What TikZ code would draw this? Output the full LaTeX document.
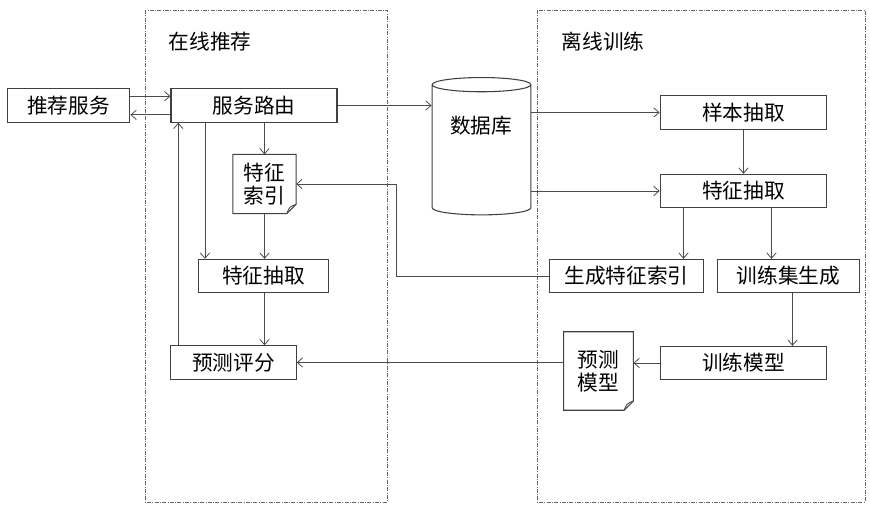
\documentclass[tikz,border=0pt]{standalone}
\usepackage{fontspec}
\newfontfamily\cjk{Noto Sans CJK SC}
\usetikzlibrary{arrows.meta,shapes.geometric}

\begin{document}
\begin{tikzpicture}[
    x=0.75pt, y=-0.75pt,
    font=\cjk\fontsize{15.5}{17}\selectfont,
    blk/.style={draw=black!75, line width=0.8pt, minimum height=25pt, inner sep=0pt},
    doc/.style={minimum width=47pt, minimum height=44pt, inner sep=0pt, align=center},
    arr/.style={draw=black!70, line width=0.6pt, -{Straight Barb[length=4pt,width=7pt]}},
    zone/.style={draw=black!60, line width=0.7pt, densely dash dot},
]
\useasboundingbox (0,0) rectangle (870,513);

% Zones
\draw[zone] (145,10) rectangle (387,502);
\draw[zone] (537,10) rectangle (865,502);
\node (zonl) at (210,42) {在线推荐};
\node (zonr) at (603,42) {离线训练};

% Online side
\node[blk, minimum width=92pt] (tjfw) at (68.5,105.5) {推荐服务};
\node[blk, minimum width=124.5pt] (fwly) at (254,105.5) {服务路由};
\node[doc] (tzsy) at (264.5,184) {特征\\索引};
\node[blk, minimum width=97pt] (tzcq1) at (263.5,276) {特征抽取};
\node[blk, minimum width=94pt] (yycpf) at (233.5,362.5) {预测评分};

% Database
\node[cylinder, shape border rotate=90, aspect=1.6, draw=black!75, line width=0.8pt,
      minimum width=74pt, minimum height=103pt] (db) at (481.5,151.5) {};
\node (dbt) at (481,126) {数据库};

% Offline side
\node[blk, minimum width=125pt, minimum height=26pt] (ybcq) at (743.5,112.5) {样本抽取};
\node[blk, minimum width=125pt] (tzcq2) at (743.5,191) {特征抽取};
\node[blk, minimum width=115pt] (sctzsy) at (626.5,276) {生成特征索引};
\node[blk, minimum width=107pt] (xljsc) at (788.5,276) {训练集生成};
\node[blk, minimum width=125pt] (xlmx) at (743.5,363) {训练模型};
\node[doc, minimum width=52pt, minimum height=58.5pt] (ycmx) at (598.5,371) {预测\\模型};

% Document outlines
\foreach \d in {tzsy,ycmx} {
  \draw[draw=black!75, line width=0.8pt] ([yshift=7pt]\d.south east) -- (\d.north east)
    -- (\d.north west) -- (\d.south west) -- ([xshift=-7pt]\d.south east) -- cycle;
  \draw[draw=black!75, line width=0.6pt] ([xshift=-7pt]\d.south east)
    .. controls ([xshift=-5pt,yshift=5pt]\d.south east) .. ([yshift=7pt]\d.south east);
}

% Connectors
\draw[arr] ([yshift=7pt]tjfw.east) -- ([yshift=7pt]tjfw.east -| fwly.west);
\draw[arr] ([yshift=-7pt]fwly.west) -- ([yshift=-7pt]fwly.west -| tjfw.east);
\draw[arr] (fwly.east) -- (fwly.east -| db.west);
\draw[arr] (tzsy.north |- fwly.south) -- (tzsy.north);
\draw[arr] (tzsy.south) -- (tzsy.south |- tzcq1.north);
\draw[arr] (tzsy.south |- tzcq1.south) -- (tzsy.south |- yycpf.north);
\draw[arr] ([xshift=5pt]tzcq1.north west |- fwly.south) -- ([xshift=5pt]tzcq1.north west);
\draw[arr] ([xshift=6pt]yycpf.north west) -- ([xshift=6pt]yycpf.north west |- fwly.south);

\draw[arr] (db.east |- ybcq.west) -- (ybcq.west);
\draw[arr] (db.east |- tzcq2.west) -- (tzcq2.west);
\draw[arr] (ybcq.south) -- (tzcq2.north);
\draw[arr] ([xshift=-45pt]tzcq2.south) -- ([xshift=-45pt]tzcq2.south |- sctzsy.north);
\draw[arr] ([xshift=21pt]tzcq2.south) -- ([xshift=21pt]tzcq2.south |- xljsc.north);
\draw[arr] ([xshift=3pt]xljsc.south) -- ([xshift=3pt]xljsc.south |- xlmx.north);
\draw[arr] (sctzsy.west) -- ++(-153,0) |- (tzsy.east);
\draw[arr] (xlmx.west) -- (xlmx.west -| ycmx.east);
\draw[arr] (ycmx.west |- yycpf.east) -- (yycpf.east);
\end{tikzpicture}
\end{document}
